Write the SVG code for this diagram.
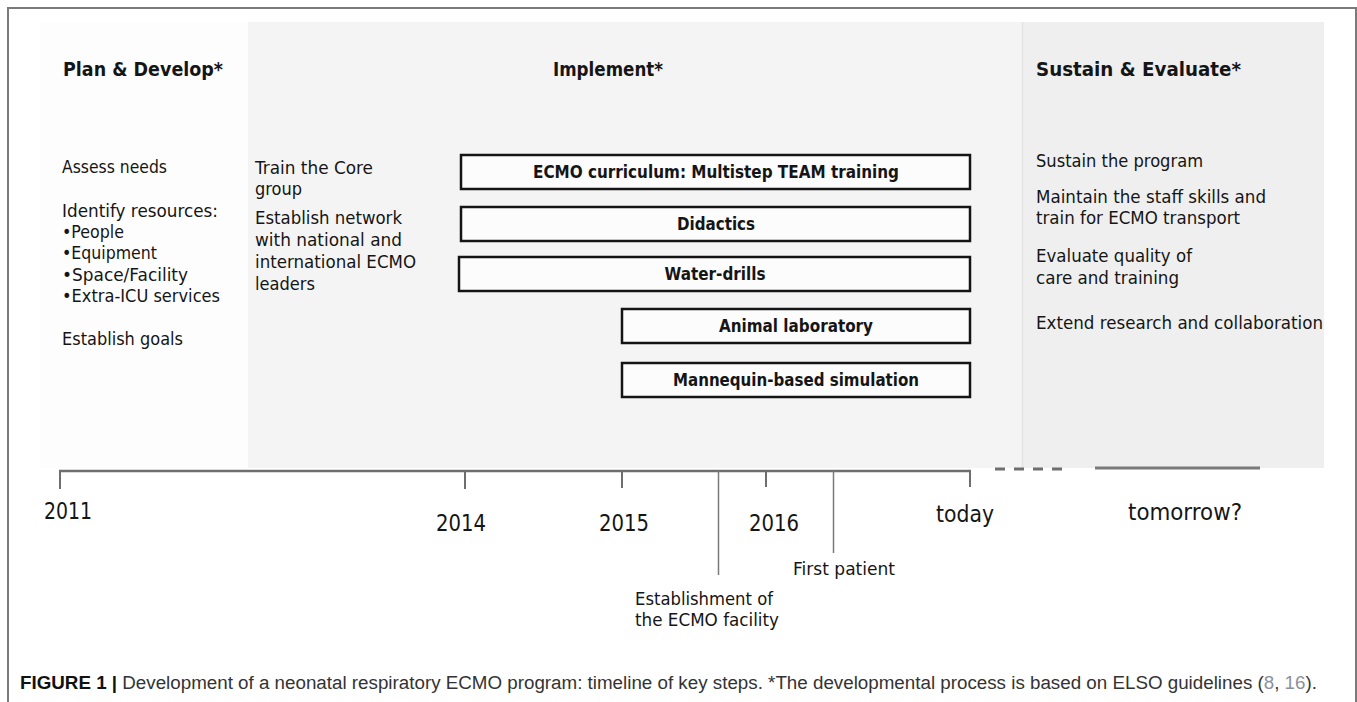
<svg xmlns="http://www.w3.org/2000/svg" width="1357" height="702" viewBox="0 0 1357 702">
<style>
text{font-family:"DejaVu Sans","Liberation Sans",sans-serif;fill:#151515;}
.h{font-size:19.5px;font-weight:bold;}
.b{font-size:18px;}
.bl{font-size:17.5px;font-weight:bold;text-anchor:middle;}
.yr{font-size:23px;}
.cap{font-family:"Liberation Sans",Arial,sans-serif;font-size:18px;fill:#333;}
.box{fill:#fcfcfc;stroke:#141414;stroke-width:2.5;}
.tl{stroke:#6e6e6e;stroke-width:2.5;fill:none;}
.tk{stroke:#6e6e6e;stroke-width:2;fill:none;}
</style>
<rect x="0" y="0" width="1357" height="702" fill="#ffffff"/>
<g id="frame" fill="none" stroke="#7a7a7a" stroke-width="2">
<polyline points="8,702 8,8 1356,8 1356,702"/>
</g>
<g id="panels">
<rect x="40" y="22" width="208" height="446" fill="#fdfdfd"/>
<rect x="248" y="22" width="774" height="446" fill="#f4f4f4"/>
<rect x="1022" y="22" width="302" height="446" fill="#efefef"/>
<line x1="1022.5" y1="22" x2="1022.5" y2="468" stroke="#e4e4e4" stroke-width="1.5"/>
</g>
<g id="plan">
<text class="h" x="63" y="76" textLength="160" lengthAdjust="spacingAndGlyphs">Plan &amp; Develop*</text>
<text class="b" x="62" y="173" textLength="105" lengthAdjust="spacingAndGlyphs">Assess needs</text>
<text class="b" x="62" y="217" textLength="156" lengthAdjust="spacingAndGlyphs">Identify resources:</text>
<text class="b" x="62" y="238" textLength="62" lengthAdjust="spacingAndGlyphs">•People</text>
<text class="b" x="62" y="259" textLength="95" lengthAdjust="spacingAndGlyphs">•Equipment</text>
<text class="b" x="62" y="281" textLength="126" lengthAdjust="spacingAndGlyphs">•Space/Facility</text>
<text class="b" x="62" y="302" textLength="158" lengthAdjust="spacingAndGlyphs">•Extra-ICU services</text>
<text class="b" x="62" y="345" textLength="121" lengthAdjust="spacingAndGlyphs">Establish goals</text>
</g>
<g id="implement">
<text class="h" x="553" y="76" textLength="110" lengthAdjust="spacingAndGlyphs">Implement*</text>
<text class="b" x="255" y="174" textLength="118" lengthAdjust="spacingAndGlyphs">Train the Core</text>
<text class="b" x="255" y="195" textLength="47" lengthAdjust="spacingAndGlyphs">group</text>
<text class="b" x="255" y="224" textLength="147" lengthAdjust="spacingAndGlyphs">Establish network</text>
<text class="b" x="255" y="246" textLength="147" lengthAdjust="spacingAndGlyphs">with national and</text>
<text class="b" x="255" y="268" textLength="161" lengthAdjust="spacingAndGlyphs">international ECMO</text>
<text class="b" x="255" y="290" textLength="60" lengthAdjust="spacingAndGlyphs">leaders</text>
</g>
<g id="box-curriculum">
<rect class="box" x="461" y="155" width="509" height="34"/>
<text class="bl" x="716" y="178" textLength="366" lengthAdjust="spacingAndGlyphs">ECMO curriculum: Multistep TEAM training</text>
</g>
<g id="box-didactics">
<rect class="box" x="461" y="207" width="509" height="34"/>
<text class="bl" x="716" y="230" textLength="78" lengthAdjust="spacingAndGlyphs">Didactics</text>
</g>
<g id="box-waterdrills">
<rect class="box" x="459" y="257" width="511" height="34"/>
<text class="bl" x="715" y="280" textLength="101" lengthAdjust="spacingAndGlyphs">Water-drills</text>
</g>
<g id="box-animal">
<rect class="box" x="622" y="309" width="348" height="34"/>
<text class="bl" x="796" y="332" textLength="154" lengthAdjust="spacingAndGlyphs">Animal laboratory</text>
</g>
<g id="box-mannequin">
<rect class="box" x="622" y="363" width="348" height="34"/>
<text class="bl" x="796" y="386" textLength="246" lengthAdjust="spacingAndGlyphs">Mannequin-based simulation</text>
</g>
<g id="sustain">
<text class="h" x="1036" y="76" textLength="205" lengthAdjust="spacingAndGlyphs">Sustain &amp; Evaluate*</text>
<text class="b" x="1036" y="167" textLength="167" lengthAdjust="spacingAndGlyphs">Sustain the program</text>
<text class="b" x="1036" y="203" textLength="230" lengthAdjust="spacingAndGlyphs">Maintain the staff skills and</text>
<text class="b" x="1036" y="224" textLength="204" lengthAdjust="spacingAndGlyphs">train for ECMO transport</text>
<text class="b" x="1036" y="262" textLength="156" lengthAdjust="spacingAndGlyphs">Evaluate quality of</text>
<text class="b" x="1036" y="284" textLength="143" lengthAdjust="spacingAndGlyphs">care and training</text>
<text class="b" x="1036" y="329" textLength="287" lengthAdjust="spacingAndGlyphs">Extend research and collaboration</text>
</g>
<g id="connectors">
<line class="tl" x1="59" y1="471" x2="971" y2="471"/>
<line class="tk" x1="60" y1="471" x2="60" y2="489"/>
<line class="tk" x1="465" y1="471" x2="465" y2="489"/>
<line class="tk" x1="622" y1="471" x2="622" y2="488"/>
<line class="tk" x1="766" y1="471" x2="766" y2="487"/>
<line class="tk" x1="970" y1="471" x2="970" y2="487"/>
<line stroke="#7a7a7a" stroke-width="1.5" x1="718.5" y1="471" x2="718.5" y2="575"/>
<line stroke="#7a7a7a" stroke-width="1.5" x1="833.5" y1="471" x2="833.5" y2="553"/>
<line stroke="#6e6e6e" stroke-width="3" stroke-dasharray="10 9" x1="995" y1="469" x2="1062" y2="469"/>
<line stroke="#7a7a7a" stroke-width="3" x1="1095" y1="468" x2="1260" y2="468"/>
</g>
<g id="labels">
<text class="yr" x="44" y="519" textLength="48" lengthAdjust="spacingAndGlyphs">2011</text>
<text class="yr" x="436" y="531" textLength="50" lengthAdjust="spacingAndGlyphs">2014</text>
<text class="yr" x="599" y="531" textLength="50" lengthAdjust="spacingAndGlyphs">2015</text>
<text class="yr" x="749" y="531" textLength="50" lengthAdjust="spacingAndGlyphs">2016</text>
<text class="yr" x="936" y="522" textLength="58" lengthAdjust="spacingAndGlyphs">today</text>
<text class="yr" x="1128" y="520" textLength="114" lengthAdjust="spacingAndGlyphs">tomorrow?</text>
<text class="b" x="793" y="575" textLength="102" lengthAdjust="spacingAndGlyphs">First patient</text>
<text class="b" x="635" y="605" textLength="138" lengthAdjust="spacingAndGlyphs">Establishment of</text>
<text class="b" x="635" y="626" textLength="144" lengthAdjust="spacingAndGlyphs">the ECMO facility</text>
</g>
<g id="caption">
<text class="cap" x="20" y="689" textLength="1297" lengthAdjust="spacingAndGlyphs"><tspan font-weight="bold" fill="#111">FIGURE 1 | </tspan>Development of a neonatal respiratory ECMO program: timeline of key steps. *The developmental process is based on ELSO guidelines (<tspan fill="#8a8fa0">8</tspan>, <tspan fill="#8a8fa0">16</tspan>).</text>
</g>
</svg>
